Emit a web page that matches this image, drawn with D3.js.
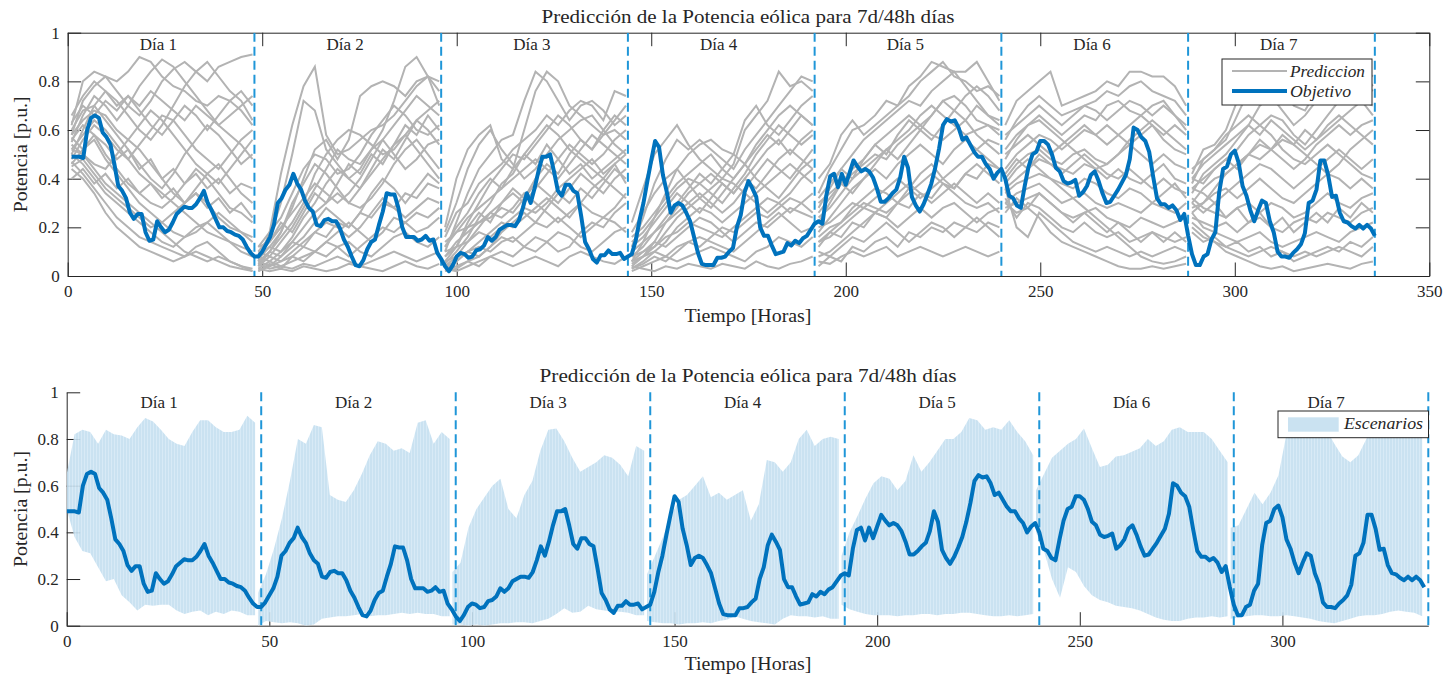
<!DOCTYPE html>
<html>
<head>
<meta charset="utf-8">
<script src="https://cdn.jsdelivr.net/npm/d3@7"></script>
<style>
  html, body { margin: 0; padding: 0; background: #fff; }
  svg { display: block; }
  text { font-family: "Liberation Serif", "Times New Roman", serif; fill: #262626; }
</style>
</head>
<body>
<svg id="chart" width="1445" height="677"></svg>
<script>
// ---- Data ---------------------------------------------------------------
const titleText = "Predicción de la Potencia eólica para 7d/48h días";
const dayLabels = ["Día 1", "Día 2", "Día 3", "Día 4", "Día 5", "Día 6", "Día 7"];
const hoursPerDay = 48;
const xTicksTop = [0, 50, 100, 150, 200, 250, 300, 350];
const xTicksBottom = [0, 50, 100, 150, 200, 250, 300];
const yTicks = [0, 0.2, 0.4, 0.6, 0.8, 1];

// Measured wind power (p.u.), hourly, 336 h
const target = [
  .49,.49,.49,.485,.6,.65,.66,.65,.59,.57,
  .54,.46,.37,.35,.32,.26,.235,.255,.255,.18,
  .145,.15,.225,.2,.18,.19,.22,.255,.27,.285,
  .28,.28,.295,.32,.35,.3,.27,.235,.2,.2,
  .185,.18,.17,.165,.15,.12,.095,.08,.08,.1,
  .13,.16,.21,.3,.32,.355,.375,.42,.38,.355,
  .31,.28,.265,.21,.205,.23,.235,.225,.225,.195,
  .15,.12,.08,.045,.04,.065,.11,.14,.15,.21,
  .265,.34,.335,.335,.28,.2,.16,.16,.16,.145,
  .15,.165,.145,.15,.095,.07,.04,.02,.045,.08,
  .095,.09,.075,.08,.105,.11,.125,.16,.145,.16,
  .19,.2,.21,.21,.205,.23,.28,.34,.3,.36,
  .43,.49,.49,.5,.43,.35,.33,.375,.375,.35,
  .34,.245,.14,.11,.07,.055,.085,.085,.105,.09,
  .09,.095,.07,.08,.09,.145,.23,.3,.39,.475,
  .555,.53,.415,.345,.26,.29,.3,.29,.26,.225,
  .16,.095,.05,.045,.045,.045,.075,.075,.08,.1,
  .115,.2,.25,.345,.39,.36,.325,.2,.165,.165,
  .125,.09,.095,.1,.135,.125,.145,.135,.155,.165,
  .19,.215,.225,.215,.33,.41,.42,.365,.42,.375,
  .425,.475,.45,.43,.44,.43,.405,.36,.305,.305,
  .32,.34,.355,.405,.49,.445,.325,.29,.265,.295,
  .335,.38,.445,.525,.62,.645,.635,.64,.61,.56,
  .57,.54,.51,.49,.49,.46,.44,.4,.425,.44,
  .4,.33,.32,.29,.28,.37,.45,.5,.51,.555,
  .555,.54,.5,.445,.43,.39,.38,.385,.395,.33,
  .345,.37,.415,.43,.39,.34,.3,.305,.33,.355,
  .385,.415,.48,.61,.6,.57,.555,.51,.41,.32,
  .295,.295,.28,.29,.27,.23,.255,.167,.09,.045,
  .045,.08,.09,.15,.18,.345,.44,.45,.5,.515,
  .465,.37,.33,.27,.225,.27,.31,.3,.225,.18,
  .1,.08,.08,.075,.095,.11,.13,.175,.3,.31,
  .355,.475,.475,.415,.325,.33,.26,.225,.22,.205,
  .195,.21,.195,.21,.195,.165
];

// Forecast scenarios per day (in % of p.u.), 17 samples across each 48 h window
const scenariosDay1 = [
  [62,80,84,82,76,70,66,72,80,85,88,84,80,86,88,90,91],
  [58,72,78,82,80,84,90,88,82,78,76,72,70,74,72,76,70],
  [55,66,74,70,64,70,78,84,89,86,80,74,68,62,66,70,74],
  [50,60,70,76,72,66,60,56,62,70,78,84,88,82,76,72,64],
  [48,56,62,58,52,48,54,60,66,64,58,52,48,44,50,56,60],
  [60,68,70,64,58,52,46,40,36,42,50,56,62,58,52,46,50],
  [52,50,46,44,50,56,52,46,40,34,30,36,42,46,40,34,30],
  [56,62,58,50,44,38,34,30,28,32,38,44,40,34,28,26,22],
  [45,48,42,36,32,28,24,20,22,26,30,34,30,24,20,18,14],
  [50,46,40,34,30,26,22,18,14,12,16,20,22,18,14,10,8],
  [47,42,36,30,24,20,16,14,12,10,8,12,14,10,6,4,3],
  [54,50,44,38,34,30,26,22,18,14,10,8,6,8,6,4,2],
  [44,40,34,26,20,16,12,10,8,6,8,10,8,6,4,3,2],
  [52,58,64,60,54,48,42,38,34,30,26,22,18,16,14,12,10],
  [58,64,68,66,60,56,62,68,64,58,52,46,42,38,44,50,56],
  [46,52,56,48,42,36,30,26,22,18,16,18,22,26,22,18,16],
  [66,74,80,76,70,74,68,62,58,64,70,66,60,66,72,68,62],
  [40,44,38,42,36,40,34,38,32,36,30,34,28,32,26,30,24],
  [57,52,58,54,48,52,44,48,40,44,38,42,36,40,34,38,36],
  [63,70,66,72,68,74,70,76,72,68,64,70,66,62,58,54,48]
];
const scenariosDay2 = [
  [6,18,42,62,78,86,58,50,52,56,60,62,66,72,78,82,80],
  [10,16,30,50,72,68,52,46,40,44,52,60,72,86,90,82,70],
  [5,10,18,28,40,52,56,48,56,74,78,80,78,74,80,82,76],
  [12,18,24,34,44,50,48,42,44,50,58,64,70,66,60,58,62],
  [4,8,14,20,28,36,44,52,48,46,52,56,50,44,48,54,56],
  [8,12,10,16,24,30,38,44,40,36,42,48,54,58,52,46,40],
  [3,6,10,14,20,26,30,34,30,28,32,38,46,52,56,50,44],
  [6,4,8,12,16,22,28,24,20,26,34,40,36,30,36,42,38],
  [10,8,6,10,14,18,22,20,16,20,26,32,28,24,28,32,30],
  [2,4,6,8,12,10,14,18,22,18,14,18,24,22,18,20,24],
  [5,3,4,6,8,10,8,12,14,10,8,12,16,18,14,12,16],
  [8,6,4,3,5,4,6,8,6,4,6,8,10,8,6,8,10],
  [3,2,3,2,4,3,2,3,5,4,3,2,4,6,4,3,5],
  [12,14,20,26,32,38,34,30,34,40,48,56,62,68,74,70,66],
  [6,10,16,22,30,42,50,56,60,58,54,50,52,58,64,68,72],
  [4,10,8,14,12,18,16,22,20,26,24,30,28,34,32,38,36],
  [9,14,22,18,26,34,30,38,46,42,50,46,54,62,58,66,60],
  [2,5,3,8,6,10,14,12,8,12,16,20,18,22,26,24,28],
  [7,12,18,30,38,46,42,36,30,36,44,52,48,56,64,60,54]
];
const scenariosDay3 = [
  [20,40,52,58,62,48,44,60,76,84,80,70,66,62,58,60,56],
  [10,22,34,44,50,56,58,72,84,80,72,64,70,72,68,62,66],
  [16,26,30,38,42,46,52,56,60,66,62,68,72,70,64,76,74],
  [6,12,22,30,38,44,50,48,54,60,66,62,56,52,58,64,70],
  [12,18,24,28,32,36,40,44,48,44,40,46,52,58,54,50,46],
  [4,8,14,20,26,30,34,30,36,42,48,54,50,46,50,56,60],
  [8,14,18,22,24,28,26,32,38,34,30,36,42,38,34,40,44],
  [3,6,10,14,18,22,20,24,28,32,28,24,30,36,40,36,32],
  [14,18,20,22,26,24,28,34,30,26,22,26,30,26,24,28,34],
  [2,4,6,8,12,16,14,18,22,20,24,20,16,20,24,22,18],
  [6,8,10,12,10,14,16,12,10,14,18,16,12,10,14,18,20],
  [3,2,4,6,8,6,4,6,8,6,4,8,10,8,6,5,8],
  [10,12,14,18,16,20,24,28,26,30,36,40,44,48,42,46,50],
  [18,30,44,54,60,52,46,40,44,50,56,60,64,66,60,54,50],
  [5,10,16,24,30,38,42,50,56,62,58,52,48,44,40,46,38],
  [8,12,20,26,22,30,36,32,40,46,42,50,56,52,60,66,62],
  [4,6,10,8,12,18,22,26,22,28,34,30,36,32,38,44,40],
  [12,20,26,34,40,36,44,50,46,54,48,42,46,40,44,48,52],
  [2,3,6,4,8,10,8,12,16,14,10,12,18,22,20,26,30]
];
const scenariosDay4 = [
  [22,36,50,56,62,54,48,44,40,46,60,66,72,84,78,80,76],
  [12,24,38,48,56,52,56,52,48,44,52,58,64,70,76,82,80],
  [6,14,24,34,44,50,54,56,52,50,64,70,62,58,64,70,74],
  [16,20,26,32,38,42,46,50,44,40,46,54,60,66,70,66,62],
  [4,8,14,22,28,34,38,42,38,34,40,46,52,56,50,56,60],
  [10,14,18,22,26,30,34,30,26,30,36,42,48,44,40,46,52],
  [3,6,10,14,20,24,28,26,22,26,30,34,38,42,46,42,38],
  [8,10,12,16,18,22,20,18,16,20,24,28,32,30,26,30,34],
  [2,4,6,8,12,14,16,14,12,10,14,18,22,26,22,18,20],
  [6,8,10,8,6,8,10,12,10,8,6,10,12,16,14,12,16],
  [4,3,2,4,3,5,4,3,5,4,3,6,4,3,5,6,8],
  [14,18,24,30,36,40,38,34,30,36,42,50,56,62,58,54,58],
  [18,26,34,40,44,38,32,28,34,40,46,40,36,32,38,44,48],
  [5,8,12,18,24,28,32,36,40,38,34,30,26,30,34,40,44],
  [8,12,18,24,30,36,42,38,44,50,46,52,58,54,60,66,62],
  [3,5,8,6,10,14,12,16,20,18,22,26,24,28,32,30,26],
  [12,16,22,28,34,30,26,32,38,34,40,36,42,48,52,48,44],
  [6,10,14,12,16,20,24,22,18,14,18,22,20,24,28,26,24]
];
const scenariosDay5 = [
  [40,46,58,64,58,62,66,70,78,82,88,86,84,84,88,80,72],
  [34,44,52,60,62,66,72,70,74,80,84,88,82,80,76,78,74],
  [28,36,44,50,56,60,64,68,72,70,76,80,84,78,72,66,64],
  [22,30,38,44,48,54,58,62,66,62,66,72,74,70,64,62,60],
  [30,34,38,42,46,50,48,54,58,62,58,56,60,64,58,54,50],
  [18,24,30,36,40,44,40,46,50,54,50,46,52,56,52,48,44],
  [12,18,22,28,32,36,34,30,36,42,46,40,36,42,46,42,38],
  [20,22,26,30,28,26,30,34,38,34,30,34,38,34,30,34,30],
  [8,10,14,18,22,26,24,20,24,28,24,28,30,26,22,26,28],
  [10,8,12,16,14,18,22,18,14,18,22,20,16,20,24,20,16],
  [6,5,8,10,8,10,12,8,10,12,10,8,10,12,10,8,10],
  [14,16,20,24,28,32,36,40,36,32,36,40,44,48,52,56,54],
  [24,28,34,40,44,48,52,56,60,66,70,66,62,58,60,62,58],
  [16,20,22,26,30,28,26,30,34,38,42,38,34,30,28,30,26],
  [26,32,38,34,40,46,52,48,54,60,56,62,68,64,70,66,62],
  [14,18,16,22,20,26,24,30,28,34,32,38,36,42,40,46,44],
  [32,38,44,40,48,54,50,58,64,60,66,72,68,74,78,74,68],
  [4,8,6,12,10,14,16,12,18,16,20,18,22,20,18,22,20]
];
const scenariosDay6 = [
  [62,72,76,80,84,70,72,74,76,80,78,84,84,82,82,78,70],
  [56,64,70,74,70,66,68,70,72,76,74,78,80,76,74,72,66],
  [48,56,62,66,62,58,62,66,64,70,72,68,66,70,72,66,60],
  [44,50,54,58,56,52,56,60,58,62,58,54,58,62,56,52,50],
  [40,46,50,52,48,46,50,52,48,46,50,54,50,46,50,46,44],
  [36,40,44,48,46,44,42,46,44,40,44,40,38,42,46,40,38],
  [34,38,40,42,40,38,36,40,38,34,32,36,34,30,34,38,32],
  [30,34,36,38,34,30,32,34,30,28,30,28,26,30,28,26,30],
  [28,30,32,34,30,26,24,26,28,24,22,20,24,22,20,22,24],
  [32,24,30,28,24,20,18,22,18,16,18,14,16,18,16,14,16],
  [36,20,16,26,22,18,14,12,10,12,10,8,10,8,10,12,10],
  [30,26,28,24,18,14,12,10,8,6,4,3,3,4,3,4,5],
  [38,44,48,44,40,36,32,28,24,20,16,12,8,6,5,6,8],
  [52,58,62,64,60,56,52,48,44,46,50,56,60,64,60,56,52],
  [58,62,66,70,66,62,66,70,68,64,68,72,70,66,70,66,62],
  [42,48,44,50,46,42,46,50,46,42,40,44,40,36,40,36,34],
  [26,32,28,34,30,26,22,26,22,18,22,18,14,18,14,18,14],
  [50,54,58,54,50,54,58,62,58,54,58,62,66,62,58,62,58]
];
const scenariosDay7 = [
  [42,52,54,60,72,84,86,88,80,72,74,82,88,86,88,86,82],
  [38,48,52,56,66,76,82,84,78,70,68,76,84,88,84,80,76],
  [34,42,46,50,56,62,70,74,68,62,66,72,78,80,82,84,78],
  [40,38,44,48,52,58,62,66,64,58,54,60,66,72,76,72,66],
  [30,36,40,42,46,50,54,52,48,44,48,54,58,62,58,62,64],
  [36,34,30,34,38,42,46,44,40,36,40,44,48,52,48,44,48],
  [28,30,34,36,32,36,40,36,32,30,34,38,42,40,36,40,36],
  [32,28,26,24,28,30,26,30,28,24,26,30,34,30,28,32,34],
  [24,22,20,22,18,22,24,20,18,22,24,22,26,24,22,26,28],
  [26,20,18,16,14,16,18,14,12,14,16,18,16,14,18,20,22],
  [20,16,14,12,10,8,10,12,10,8,10,8,10,12,10,8,12],
  [22,18,14,10,8,6,4,3,4,2,3,4,5,4,3,5,6],
  [44,48,52,58,62,66,62,58,52,48,46,50,54,50,46,42,40],
  [26,30,36,42,46,50,48,52,56,54,50,46,42,46,52,56,60],
  [36,40,44,48,44,50,56,52,58,54,60,56,62,66,62,58,54],
  [30,26,30,24,28,22,26,20,24,18,22,26,22,28,24,30,26],
  [40,46,50,54,58,62,58,64,60,56,52,56,60,64,68,72,70],
  [18,14,16,12,14,10,12,8,10,6,8,10,12,10,14,12,16]
];
const scenarios = [scenariosDay1, scenariosDay2, scenariosDay3, scenariosDay4,
                   scenariosDay5, scenariosDay6, scenariosDay7];

// Scenario envelope per day (p.u.), 25 samples across each window
const bandUpper = [
  [.65,.82,.84,.83,.78,.84,.82,.815,.8,.85,.89,.875,.84,.8,.78,.77,.83,.88,.88,.85,.83,.83,.84,.9,.87],
  [.14,.22,.33,.46,.62,.8,.78,.86,.85,.56,.54,.53,.58,.65,.73,.79,.78,.75,.76,.74,.87,.88,.78,.83,.8],
  [.23,.27,.42,.5,.55,.6,.63,.5,.46,.56,.62,.75,.84,.845,.79,.72,.66,.68,.7,.73,.72,.69,.64,.77,.75],
  [.22,.3,.38,.47,.54,.56,.6,.64,.55,.57,.54,.56,.58,.45,.52,.71,.7,.66,.7,.8,.84,.77,.8,.81,.8],
  [.3,.4,.47,.545,.61,.64,.63,.58,.62,.73,.66,.7,.75,.8,.8,.83,.89,.88,.84,.85,.84,.88,.83,.79,.73],
  [.58,.65,.72,.75,.78,.8,.845,.76,.68,.69,.725,.73,.745,.76,.8,.77,.79,.84,.85,.83,.83,.83,.8,.75,.7],
  [.42,.43,.5,.57,.52,.57,.645,.82,.86,.87,.84,.88,.84,.78,.725,.7,.73,.8,.86,.88,.86,.88,.87,.85,.82]
];
const bandLower = [
  [.5,.38,.32,.31,.25,.19,.2,.13,.1,.065,.09,.085,.09,.09,.065,.05,.06,.065,.045,.06,.05,.065,.06,.045,.045],
  [0,.02,.015,.01,.015,.01,0,.005,.03,.035,.04,.04,.045,.05,.04,.045,.045,.05,.055,.05,.055,.05,.05,.04,.04],
  [.005,.005,0,.005,0,.005,.01,.01,.015,.015,.01,.02,.03,.05,.075,.055,.06,.085,.07,.065,.06,.06,.055,.045,.045],
  [.02,.015,.01,.01,.005,.01,.01,.015,.01,.02,.025,.04,.03,.02,.015,.01,.005,.03,.045,.04,.04,.035,.04,.03,.03],
  [.09,.07,.06,.05,.045,.045,.045,.04,.045,.045,.05,.05,.045,.05,.05,.055,.055,.05,.045,.04,.04,.045,.04,.045,.05],
  [.4,.32,.2,.12,.25,.23,.17,.13,.11,.1,.085,.08,.075,.065,.05,.035,.025,.02,.02,.03,.035,.035,.04,.035,.04],
  [.03,.035,.04,.045,.045,.04,.04,.045,.04,.035,.03,.02,.015,.01,.02,.03,.04,.045,.045,.05,.06,.065,.06,.055,.04]
];

// ---- Layout -------------------------------------------------------------
const svg = d3.select("#chart");
const C = {
  axis: "#262626",
  gray: "#b3b3b3",
  blue: "#0072bd",
  dash: "#1f96d8",
  band: "#c4dff0",
  bandStripe: "#d4e8f5"
};
const tickLen = 13.5;
const fmtY = d => (d === 0 || d === 1) ? String(d) : d3.format(".1f")(d);

const boxTop = { left: 67.7, right: 1429.3, top: 32.7, bottom: 276 };
const boxBot = { left: 66.7, right: 1428.3, top: 392.3, bottom: 625.7 };

const xT = d3.scaleLinear().domain([0, 350]).range([boxTop.left, boxTop.right]);
const yT = d3.scaleLinear().domain([0, 1]).range([boxTop.bottom, boxTop.top]);
const xB = d3.scaleLinear().domain([0, 336]).range([boxBot.left, boxBot.right]);
const yB = d3.scaleLinear().domain([0, 1]).range([boxBot.bottom, boxBot.top]);

const defs = svg.append("defs");
defs.append("clipPath").attr("id", "clipTop").append("rect")
  .attr("x", boxTop.left).attr("y", boxTop.top)
  .attr("width", boxTop.right - boxTop.left).attr("height", boxTop.bottom - boxTop.top);
defs.append("clipPath").attr("id", "clipBot").append("rect")
  .attr("x", boxBot.left).attr("y", boxBot.top - 2)
  .attr("width", boxBot.right - boxBot.left + 2).attr("height", boxBot.bottom - boxBot.top + 2);
const pat = defs.append("pattern").attr("id", "stripes")
  .attr("patternUnits", "userSpaceOnUse").attr("width", 3).attr("height", 10);
pat.append("rect").attr("width", 3).attr("height", 10).attr("fill", C.band);
pat.append("rect").attr("width", 1).attr("height", 10).attr("fill", C.bandStripe);

function styleAxis(g) {
  g.selectAll("path.domain").attr("stroke", C.axis).attr("stroke-width", 1);
  g.selectAll(".tick line").attr("stroke", C.axis).attr("stroke-width", 1);
  g.selectAll(".tick text").attr("fill", C.axis)
    .style("font-family", "'Liberation Serif', serif").style("font-size", "17px");
}

// ---- Top panel: scenarios + measured ------------------------------------
const gTop = svg.append("g");

// axes (inward ticks on all four sides)
gTop.append("g").attr("transform", `translate(0,${boxTop.bottom})`)
  .call(d3.axisBottom(xT).tickValues(xTicksTop).tickSize(-tickLen).tickSizeOuter(0).tickPadding(9))
  .call(styleAxis);
gTop.append("g").attr("transform", `translate(0,${boxTop.top})`)
  .call(d3.axisTop(xT).tickValues(xTicksTop).tickSize(-tickLen).tickSizeOuter(0).tickFormat(""))
  .call(styleAxis);
gTop.append("g").attr("transform", `translate(${boxTop.left},0)`)
  .call(d3.axisLeft(yT).tickValues(yTicks).tickSize(-tickLen).tickSizeOuter(0).tickPadding(8).tickFormat(fmtY))
  .call(styleAxis);
gTop.append("g").attr("transform", `translate(${boxTop.right},0)`)
  .call(d3.axisRight(yT).tickValues(yTicks).tickSize(-tickLen).tickSizeOuter(0).tickFormat(""))
  .call(styleAxis);

const plotTop = gTop.append("g").attr("clip-path", "url(#clipTop)");

// scenario lines
const lineTop = d3.line().x(d => xT(d[0])).y(d => yT(d[1]));
scenarios.forEach((day, i) => {
  const x0 = hoursPerDay * i + 1, x1 = hoursPerDay * (i + 1) - 0.5;
  day.forEach(series => {
    const pts = series.map((v, k) => [x0 + (x1 - x0) * k / (series.length - 1), v / 100]);
    plotTop.append("path").attr("d", lineTop(pts))
      .attr("fill", "none").attr("stroke", C.gray).attr("stroke-width", 2);
  });
});

// day separators
d3.range(1, 8).forEach(k => {
  plotTop.append("line")
    .attr("x1", xT(k * hoursPerDay)).attr("x2", xT(k * hoursPerDay))
    .attr("y1", boxTop.top).attr("y2", boxTop.bottom)
    .attr("stroke", C.dash).attr("stroke-width", 2).attr("stroke-dasharray", "9,5");
});

// measured series (hours 1..336)
plotTop.append("path")
  .attr("d", d3.line().x((d, i) => xT(i + 1)).y(d => yT(d))(target))
  .attr("fill", "none").attr("stroke", C.blue).attr("stroke-width", 4)
  .attr("stroke-linejoin", "round");

// day labels
dayLabels.forEach((t, i) => {
  gTop.append("text").attr("x", xT(hoursPerDay * i + 23.3)).attr("y", 49.5)
    .attr("text-anchor", "middle").style("font-size", "17px").text(t);
});

// legend
const legT = gTop.append("g");
legT.append("rect").attr("x", 1222).attr("y", 59).attr("width", 150).attr("height", 46)
  .attr("fill", "#fff").attr("stroke", C.axis).attr("stroke-width", 1);
legT.append("line").attr("x1", 1232).attr("x2", 1287).attr("y1", 71).attr("y2", 71)
  .attr("stroke", C.gray).attr("stroke-width", 2);
legT.append("line").attr("x1", 1232).attr("x2", 1287).attr("y1", 91).attr("y2", 91)
  .attr("stroke", C.blue).attr("stroke-width", 4);
legT.append("text").attr("x", 1290).attr("y", 76.5).style("font-style", "italic")
  .style("font-size", "16px").attr("textLength", 75).attr("lengthAdjust", "spacingAndGlyphs").text("Prediccion");
legT.append("text").attr("x", 1290).attr("y", 96.5).style("font-style", "italic")
  .style("font-size", "16px").attr("textLength", 61).attr("lengthAdjust", "spacingAndGlyphs").text("Objetivo");

// titles and axis labels
gTop.append("text").attr("x", 748).attr("y", 22.5).attr("text-anchor", "middle")
  .style("font-size", "18px").attr("textLength", 413).attr("lengthAdjust", "spacingAndGlyphs").text(titleText);
gTop.append("text").attr("x", 748).attr("y", 322).attr("text-anchor", "middle")
  .style("font-size", "18px").attr("textLength", 127).attr("lengthAdjust", "spacingAndGlyphs").text("Tiempo [Horas]");
gTop.append("text").attr("transform", `translate(27,${(boxTop.top + boxTop.bottom) / 2}) rotate(-90)`)
  .attr("text-anchor", "middle").style("font-size", "18px")
  .attr("textLength", 116).attr("lengthAdjust", "spacingAndGlyphs").text("Potencia [p.u.]");

// ---- Bottom panel: scenario envelope + measured -------------------------
const gBot = svg.append("g");

gBot.append("g").attr("transform", `translate(0,${boxBot.bottom})`)
  .call(d3.axisBottom(xB).tickValues(xTicksBottom).tickSize(-tickLen).tickSizeOuter(0).tickPadding(9))
  .call(styleAxis);
gBot.append("g").attr("transform", `translate(${boxBot.left},0)`)
  .call(d3.axisLeft(yB).tickValues(yTicks).tickSize(-tickLen).tickSizeOuter(0).tickPadding(8).tickFormat(fmtY))
  .call(styleAxis);

const plotBot = gBot.append("g").attr("clip-path", "url(#clipBot)");

const area = d3.area().x(d => xB(d.x)).y0(d => yB(d.lo)).y1(d => yB(d.hi));
bandUpper.forEach((hi, i) => {
  const x0 = i === 0 ? 0 : hoursPerDay * i - 0.8;
  const x1 = hoursPerDay * (i + 1) - 1.5;
  const pts = hi.map((v, k) => ({ x: x0 + (x1 - x0) * k / (hi.length - 1), hi: v, lo: bandLower[i][k] }));
  plotBot.append("path").attr("d", area(pts))
    .attr("fill", "url(#stripes)").attr("fill-opacity", 0.9);
});

d3.range(1, 8).forEach(k => {
  plotBot.append("line")
    .attr("x1", xB(k * hoursPerDay)).attr("x2", xB(k * hoursPerDay))
    .attr("y1", boxBot.top).attr("y2", boxBot.bottom)
    .attr("stroke", C.dash).attr("stroke-width", 2).attr("stroke-dasharray", "9,5");
});

// measured series (hours 0..335)
plotBot.append("path")
  .attr("d", d3.line().x((d, i) => xB(i)).y(d => yB(d))(target))
  .attr("fill", "none").attr("stroke", C.blue).attr("stroke-width", 4)
  .attr("stroke-linejoin", "round");

dayLabels.forEach((t, i) => {
  gBot.append("text").attr("x", xB(hoursPerDay * i + 22.8)).attr("y", 408)
    .attr("text-anchor", "middle").style("font-size", "17px").text(t);
});

const legB = gBot.append("g");
legB.append("rect").attr("x", 1278).attr("y", 411).attr("width", 150.5).attr("height", 26.7)
  .attr("fill", "#fff").attr("stroke", C.axis).attr("stroke-width", 1);
legB.append("rect").attr("x", 1288).attr("y", 417.3).attr("width", 50.7).attr("height", 14.4)
  .attr("fill", C.band).attr("fill-opacity", 0.9);
legB.append("text").attr("x", 1344).attr("y", 428.8).style("font-style", "italic")
  .style("font-size", "16px").attr("textLength", 79).attr("lengthAdjust", "spacingAndGlyphs").text("Escenarios");

gBot.append("text").attr("x", 748).attr("y", 382).attr("text-anchor", "middle")
  .style("font-size", "18px").attr("textLength", 417).attr("lengthAdjust", "spacingAndGlyphs").text(titleText);
gBot.append("text").attr("x", 748).attr("y", 670).attr("text-anchor", "middle")
  .style("font-size", "18px").attr("textLength", 127).attr("lengthAdjust", "spacingAndGlyphs").text("Tiempo [Horas]");
gBot.append("text").attr("transform", `translate(27,${(boxBot.top + boxBot.bottom) / 2}) rotate(-90)`)
  .attr("text-anchor", "middle").style("font-size", "18px")
  .attr("textLength", 116).attr("lengthAdjust", "spacingAndGlyphs").text("Potencia [p.u.]");
</script>
</body>
</html>
